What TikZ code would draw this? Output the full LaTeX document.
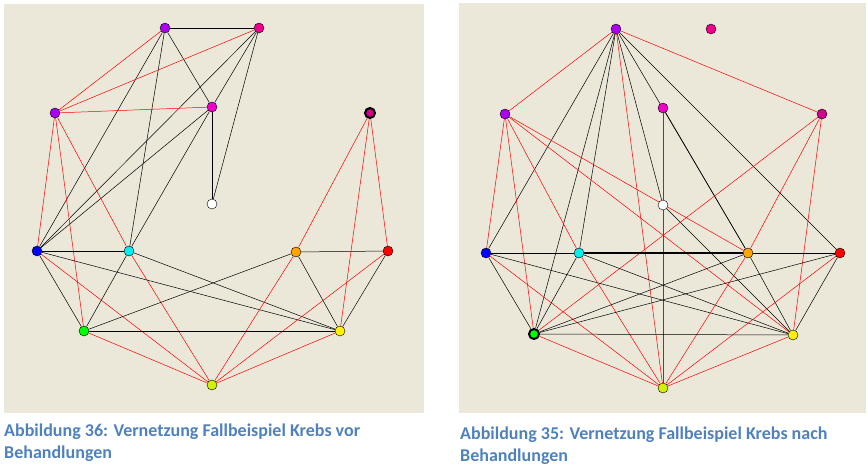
\documentclass[tikz,border=0pt]{standalone}
\usepackage{fontspec}
\setmainfont{Carlito}
\usetikzlibrary{positioning,backgrounds}
\definecolor{panel}{RGB}{235,232,217}
\definecolor{capblue}{RGB}{79,129,189}
\definecolor{dmag}{RGB}{210,0,140}
\definecolor{ygreen}{RGB}{210,240,0}
\definecolor{vio}{RGB}{170,0,240}
\definecolor{pnk}{RGB}{240,0,200}
\definecolor{cyn}{RGB}{0,240,240}
\definecolor{orng}{RGB}{255,165,0}
\tikzset{main node/.style={circle,draw,minimum size=10pt,inner sep=0pt},
  plus/.style={red,line width=0.5pt},
  minus/.style={black,line width=0.5pt},
  caption/.style={anchor=north west,align=left,text=capblue,font=\bfseries\fontsize{18}{22}\selectfont,inner sep=0pt},
}
\begin{document}
\begin{tikzpicture}[x=1pt,y=-1pt]
	\useasboundingbox (0,0) rectangle (868,466);
	% before
	\node[main node,fill=vio] (A) at (165,28) {};
	\node[main node,fill=magenta] (B) at (259,28) {};
	\node[main node,fill=vio] (C) at (55,113) {};
	\node[main node,fill=pnk] (D) at (212,107) {};
	\node[main node,fill=white] (E) at (212,204) {};
	\node[main node,fill=dmag,line width=2pt] (F) at (370,113) {};
	\node[main node,fill=blue] (G) at (37,251) {};
	\node[main node,fill=cyn] (H) at (129,251) {};
	\node[main node,fill=orng] (I) at (296,252) {};
	\node[main node,fill=red] (J) at (388,251) {};
	\node[main node,fill=green] (K) at (84,331) {};
	\node[main node,fill=yellow] (L) at (340,331) {};
	\node[main node,fill=ygreen] (M) at (212,385) {};
	% after
	\node[main node,fill=vio] (a) at (616,29) {};
	\node[main node,fill=magenta] (b) at (711,29) {};
	\node[main node,fill=vio] (c) at (505,114) {};
	\node[main node,fill=pnk] (d) at (663,108) {};
	\node[main node,fill=white] (e) at (663,205) {};
	\node[main node,fill=dmag] (f) at (822,114) {};
	\node[main node,fill=blue] (g) at (486,253) {};
	\node[main node,fill=cyn] (h) at (579,253) {};
	\node[main node,fill=orng] (i) at (748,253) {};
	\node[main node,fill=red] (j) at (840,253) {};
	\node[main node,fill=green,line width=2pt] (k) at (534,334) {};
	\node[main node,fill=yellow] (l) at (793,335) {};
	\node[main node,fill=ygreen] (m) at (663,388) {};
	\begin{scope}[on background layer]
	\fill[panel] (4,4) rectangle (424,413);
	\fill[panel] (459,3) rectangle (866,413);
	\path
	(A) edge[minus] (B) (A) edge[minus] (H) (A) edge[minus] (D) (A) edge[minus] (G)
	(B) edge[minus] (D) (B) edge[minus] (E) (B) edge[minus] (G)
	(D) edge[minus] (G) (D) edge[minus] (H) (D) edge[minus] (E)
	(A) edge[plus] (C) (B) edge[plus] (C) (C) edge[plus] (D) (C) edge[plus] (G)
	(C) edge[plus] (K) (C) edge[plus] (H)
	(G) edge[minus] (H) (G) edge[minus] (K) (G) edge[minus] (L) (G) edge[plus] (M)
	(H) edge[minus] (K) (H) edge[minus] (L) (H) edge[plus] (M)
	(I) edge[minus] (J) (I) edge[minus] (K) (I) edge[minus] (L) (I) edge[plus] (M)
	(J) edge[minus] (L) (J) edge[plus] (M) (K) edge[minus] (L) (K) edge[plus] (M)
	(L) edge[plus] (M)
	(F) edge[plus] (I) (F) edge[plus] (L) (F) edge[plus] (J);
	\path
	(a) edge[plus] (c) (a) edge[plus] (f) (a) edge[plus] (m)
	(a) edge[minus] (g) (a) edge[minus] (k) (a) edge[minus] (h) (a) edge[minus] (e)
	(a) edge[minus] (i) (a) edge[minus] (j)
	(c) edge[plus] (g) (c) edge[plus] (k) (c) edge[plus] (h) (c) edge[plus] (i)
	(c) edge[plus] (l)
	(d) edge[plus] (m) (d) edge[minus] (i) (e) edge[minus] (l)
	(f) edge[plus] (k) (f) edge[plus] (l) (f) edge[plus] (i)
	(g) edge[minus] (j) (g) edge[minus] (k) (g) edge[minus] (l) (g) edge[plus] (m)
	(h) edge[minus,line width=1.5pt] (i) (h) edge[minus] (k) (h) edge[minus] (l) (h) edge[plus] (m)
	(i) edge[minus] (k) (i) edge[minus] (l) (i) edge[plus] (m)
	(j) edge[minus] (k) (j) edge[minus] (l) (j) edge[plus] (m)
	(k) edge[minus] (l) (k) edge[plus] (m) (l) edge[plus] (m);
	\end{scope}
	\node[caption] (cap1) at (4,424) {Abbildung 36: Vernetzung Fallbeispiel Krebs vor\\Behandlungen};
	\node[caption] (cap2) at (460,427) {Abbildung 35: Vernetzung Fallbeispiel Krebs nach\\Behandlungen};
\end{tikzpicture}
\end{document}
